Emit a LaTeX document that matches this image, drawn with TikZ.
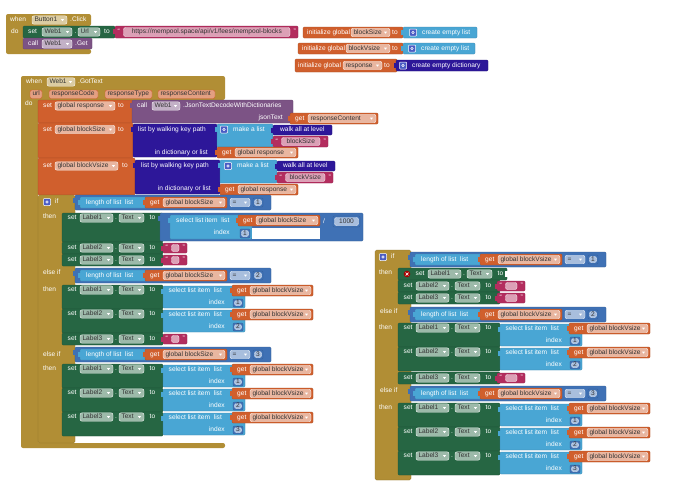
\documentclass[tikz,border=0pt]{standalone}
\usepackage{fontspec}
\setmainfont{Liberation Sans}
\usetikzlibrary{positioning}
\definecolor{ctrl}{HTML}{B18E35}
\definecolor{compgreen}{HTML}{266643}
\definecolor{callpurple}{HTML}{7C5385}
\definecolor{varorange}{HTML}{D05F2D}
\definecolor{dictblue}{HTML}{2D1799}
\definecolor{listblue}{HTML}{49A6D4}
\definecolor{textpink}{HTML}{B32D5E}
\definecolor{mathblue}{HTML}{3F71B5}
\definecolor{gearblue}{HTML}{4A5CC4}
\newcommand{\blkfont}{\fontsize{6.6}{7}\selectfont}
\tikzset{
    txt/.style={text=white, font=\blkfont, anchor=west, inner sep=0pt, text height=4.7pt, text depth=1.4pt},
    rtxt/.style={txt, anchor=east},
    ptxt/.style={txt, text=black!80},
    ctxt/.style={ptxt, anchor=center},
    pillbg/.style={fill=white, fill opacity=0.55, draw=white, draw opacity=0.9, line width=0.35pt, rounded corners=2pt},
    parampill/.style={fill=varorange!60!white, draw=varorange, line width=0.4pt, rounded corners=2pt},
    blkbox/.style={line width=0.3pt, rounded corners=1pt}
}
% plain block and its value tab
\newcommand{\blk}[5]{\filldraw[blkbox, fill=#1, draw=#1!80!black] ({#2},{#3}) rectangle ({#4},{#5});}
\newcommand{\vtab}[3]{\fill[#1] ({#2-2.5},{#3+2.5}) rectangle ({#2+0.5},{#3+7.5});}
% dropdown field
\newcommand{\ddpill}[4]{%
    \path[pillbg] ({#1},{#3-4.2}) rectangle ({#2},{#3+4.2});
    \node[ptxt] at ({#1+2.3},{#3}) {#4};
    \fill[white] ({#2-6},{#3-0.8}) -- ({#2-3},{#3-0.8}) -- ({#2-4.5},{#3+1.2}) -- cycle;}
\newcommand{\numblk}[5]{%
    \blk{mathblue}{#1}{#3}{#2}{#4}
    \path[pillbg] ({#1+1.5},{#3+1.5}) rectangle ({#2-1.5},{#4-1.5});
    \node[ctxt] at ({(#1+#2)/2},{(#3+#4)/2}) {#5};}
\newcommand{\getblk}[4]{%
    \blk{varorange}{#1}{#3}{#2}{#3+11}\vtab{varorange}{#1}{#3}
    \node[txt] at ({#1+5},{#3+5.5}) {get};
    \ddpill{#1+18}{#2-2}{#3+5.5}{#4}}
\newcommand{\strblk}[5]{%
    \blk{textpink}{#1}{#3}{#2}{#4}\vtab{textpink}{#1}{#3}
    \node[txt] at ({#1+2.5},{(#3+#4)/2}) {“};
    \node[rtxt] at ({#2-2},{(#3+#4)/2}) {”};
    \path[pillbg] ({#1+8.5},{#3+1.5}) rectangle ({#2-8},{#4-1.5});
    \node[ctxt] at ({(#1+#2)/2+0.3},{(#3+#4)/2}) {#5};}
\newcommand{\setrow}[3]{%
    \node[txt] at ({#1+5.5},{#2}) {set};
    \ddpill{#1+18}{#1+51}{#2}{#3}
    \node[txt] at ({#1+53},{#2}) {.};
    \ddpill{#1+57}{#1+82}{#2}{Text}
    \node[txt] at ({#1+87.5},{#2}) {to};}
\newcommand{\selrow}[4]{%
    \blk{listblue}{#1}{#2+1}{#1+82}{#2+23}\vtab{listblue}{#1}{#2+1}
    \node[txt] at ({#1+5.5},{#2+5.5}) {select list item\ \ list};
    \getblk{#1+69}{#1+150}{#2}{#4}
    \node[rtxt] at ({#1+62},{#2+18}) {index};
    \numblk{#1+70}{#1+80}{#2+14}{#2+22}{#3}}
\newcommand{\cmprow}[4]{%
    \blk{mathblue}{#1}{#2}{#1+196}{#2+15}\vtab{mathblue}{#1}{#2}
    \blk{listblue}{#1+5}{#2+2}{#1+72}{#2+13}\vtab{listblue}{#1+5}{#2+2}
    \node[txt] at ({#1+11},{#2+7.5}) {length of list\ \ list};
    \getblk{#1+70}{#1+152}{#2+2}{#3}
    \ddpill{#1+155}{#1+175}{#2+7.5}{=}
    \numblk{#1+178}{#1+188}{#2+3}{#2+12}{#4}}
\newcommand{\gear}[2]{%
    \filldraw[fill=gearblue, draw=white, line width=0.5pt, rounded corners=0.8pt] ({#1-3.5},{#2-3.5}) rectangle ({#1+3.5},{#2+3.5});
    \draw[white, line width=0.6pt] ({#1},{#2}) circle (1.3pt);}

\begin{document}
\begin{tikzpicture}[x=1pt, y=-1pt]
\useasboundingbox[fill=white] (0,0) rectangle (674,496);

% when Button1.Click
\fill[ctrl, rounded corners=2pt] (6,14) -- (91,14) -- (91,26) -- (23,26) -- (23,49) -- (91,49) -- (91,54) -- (6,54) -- cycle;
\node[txt] (click) at (10,20) {when};
\ddpill{32}{67}{20}{Button1}
\node[txt] at (70,20) {.Click};
\node[txt] at (11,32) {do};
\blk{compgreen}{23}{26}{115}{38}
\node[txt] at (28,32) {set};
\ddpill{42}{72}{32}{Web1}
\node[txt] at (74.5,32) {.};
\ddpill{78}{100}{32}{Url}
\node[txt] at (104,32) {to};
\strblk{115}{298}{26}{38}{https://mempool.space/api/v1/fees/mempool-blocks}
\blk{callpurple}{23}{38}{92}{49}
\node[txt] at (28,44) {call};
\ddpill{42}{72}{44}{Web1}
\node[txt] at (75,44) {.Get};

% globals
\blk{varorange}{303}{27}{403}{38}
\node[txt] (gsize) at (307,32.5) {initialize global};
\ddpill{351}{390}{32.5}{blockSize}
\node[txt] at (392,32.5) {to};
\blk{listblue}{403}{27}{477}{38}\vtab{listblue}{403}{27}
\gear{413}{32.5}
\node[txt] at (422,32.5) {create empty list};
\blk{varorange}{298}{43}{403}{54}
\node[txt] (gvsize) at (302,48.5) {initialize global};
\ddpill{346}{390}{48.5}{blockVsize}
\node[txt] at (392,48.5) {to};
\blk{listblue}{403}{43}{475}{54}\vtab{listblue}{403}{43}
\gear{412}{48.5}
\node[txt] at (421,48.5) {create empty list};
\blk{varorange}{295}{59}{397}{72}
\node[txt] (gresp) at (298,65.5) {initialize global};
\ddpill{343}{382}{65.5}{response}
\node[txt] at (384,65.5) {to};
\blk{dictblue}{396}{60}{488}{71}\vtab{dictblue}{396}{60}
\gear{403}{65.5}
\node[txt] at (412,65.5) {create empty dictionary};

% when Web1.GotText
\fill[ctrl, rounded corners=2pt] (21,76) -- (225,76) -- (225,100) -- (38,100) -- (38,443) -- (225,443) -- (225,448) -- (21,448) -- cycle;
\node[txt] (gottext) at (26,82) {when};
\ddpill{47}{75}{82}{Web1}
\node[txt] at (78,82) {.GotText};
\foreach \a/\b/\t in {30/42/url, 49/98/responseCode, 105/152/responseType, 158/215/responseContent} {
    \path[parampill] (\a,90) rectangle (\b,98.5);
    \node[ptxt] at (\a+2.3,94.2) {\t};
}
\node[txt] at (25,104) {do};

% set global response
\blk{varorange}{38}{100}{133}{123}
\node[txt] at (43,106) {set};
\ddpill{55}{115}{106}{global response}
\node[txt] at (118,106) {to};
\blk{callpurple}{132}{100}{293}{123}\vtab{callpurple}{132}{100}
\node[txt] at (137,106) {call};
\ddpill{152}{180}{106}{Web1}
\node[txt] at (183,106) {.JsonTextDecodeWithDictionaries};
\node[rtxt] at (283,118) {jsonText};
\getblk{290}{378}{113}{responseContent}

% set global blockSize
\blk{varorange}{38}{123}{133}{158}
\node[txt] at (43,129.5) {set};
\ddpill{55}{115}{129.5}{global blockSize}
\node[txt] at (118,129.5) {to};
\blk{dictblue}{133}{124}{217}{157}\vtab{dictblue}{133}{124}
\node[txt] at (138,129.5) {list by walking key path};
\node[rtxt] at (208,152.5) {in dictionary or list};
\blk{listblue}{217}{124}{273}{147}\vtab{listblue}{217}{124}
\gear{224}{129.5}
\node[txt] at (233,129.5) {make a list};
\blk{dictblue}{273}{125}{332}{135}\vtab{dictblue}{273}{125}
\node[txt] at (280,130) {walk all at level};
\strblk{273}{328}{136}{147}{blockSize}
\getblk{217}{298}{147}{global response}

% set global blockVsize
\blk{varorange}{38}{158}{135}{195}
\node[txt] at (43,166) {set};
\ddpill{55}{118}{166}{global blockVsize}
\node[txt] at (122,166) {to};
\blk{dictblue}{135}{160}{220}{194}\vtab{dictblue}{135}{160}
\node[txt] at (141,166) {list by walking key path};
\node[rtxt] at (211,189) {in dictionary or list};
\blk{listblue}{220}{160}{277}{183}\vtab{listblue}{220}{160}
\gear{228}{166}
\node[txt] at (237,166) {make a list};
\blk{dictblue}{277}{161}{335}{171}\vtab{dictblue}{277}{161}
\node[txt] at (283,166) {walk all at level};
\strblk{277}{333}{172}{183}{blockVsize}
\getblk{220}{298}{184}{global response}

% if blockSize
\filldraw[fill=ctrl, draw=ctrl!80!black, line width=0.3pt, rounded corners=1.5pt] (38,195) rectangle (75,443);
\gear{47}{202}
\node[txt] (ifsize) at (55,202) {if};
\cmprow{75}{195}{global blockSize}{1}
\node[txt] at (43,217) {then};
\blk{compgreen}{62}{213}{163}{242}
\setrow{62}{218}{Label1}
\blk{mathblue}{160}{213}{363}{241}\vtab{mathblue}{160}{213}
\blk{listblue}{170}{215}{252}{239}\vtab{listblue}{170}{215}
\node[txt] at (176,221) {select list item\ \ list};
\getblk{238}{320}{215}{global blockSize}
\node[rtxt] at (230,233) {index};
\numblk{240}{250}{229}{238}{1}
\fill[white] (252,228) rectangle (320,239);
\node[txt] at (323,222) {/};
\numblk{333}{360}{216}{227}{1000}
\foreach \i/\y in {2/242,3/254} {
    \blk{compgreen}{62}{\y}{163}{\y+12}
    \setrow{62}{\y+6}{Label\i}
    \strblk{163}{187}{\y+1}{\y+11}{}
}
\node[txt] at (43,273) {else if};
\cmprow{75}{268}{global blockSize}{2}
\node[txt] at (43,290) {then};
\foreach \i/\y in {1/285,2/309} {
    \blk{compgreen}{62}{\y}{163}{\y+24}
    \setrow{62}{\y+5}{Label\i}
    \selrow{163}{\y}{\i}{global blockVsize}
}
\blk{compgreen}{62}{333}{163}{345}
\setrow{62}{339}{Label3}
\strblk{163}{187}{334}{344}{}
\node[txt] at (43,355) {else if};
\cmprow{75}{347}{global blockSize}{3}
\node[txt] at (43,369) {then};
\foreach \i/\y in {1/364,2/388,3/412} {
    \blk{compgreen}{62}{\y}{163}{\y+24}
    \setrow{62}{\y+5}{Label\i}
    \selrow{163}{\y}{\i}{global blockVsize}
}

% if blockVsize (loose)
\filldraw[fill=ctrl, draw=ctrl!80!black, line width=0.3pt, rounded corners=1.5pt] (375,250) rectangle (411,480);
\gear{383}{257}
\node[txt] (ifvsize) at (391,257) {if};
\cmprow{410}{252}{global blockVsize}{1}
\node[txt] at (379,273) {then};
\blk{compgreen}{398}{268}{507}{280}
\fill[white] (504.5,271) rectangle (507.5,277);
\fill[red!65!black] (407,274) circle (3.3pt);
\draw[white, line width=0.7pt] (405.6,272.6) -- (408.4,275.4) (405.6,275.4) -- (408.4,272.6);
\setrow{410}{274}{Label1}
\foreach \i/\y in {2/280,3/292} {
    \blk{compgreen}{398}{\y}{500}{\y+12}
    \setrow{398}{\y+6}{Label\i}
    \strblk{497}{525}{\y+1}{\y+11}{}
}
\node[txt] at (380,312) {else if};
\cmprow{410}{307}{global blockVsize}{2}
\node[txt] at (379,328) {then};
\foreach \i/\y in {1/323,2/347} {
    \blk{compgreen}{398}{\y}{500}{\y+24}
    \setrow{398}{\y+5}{Label\i}
    \selrow{500}{\y}{\i}{global blockVsize}
}
\blk{compgreen}{398}{372}{500}{384}
\setrow{398}{378}{Label3}
\strblk{497}{525}{373}{383}{}
\node[txt] at (380,391) {else if};
\cmprow{410}{386}{global blockVsize}{3}
\node[txt] at (379,408) {then};
\foreach \i/\y in {1/403,2/427,3/451} {
    \blk{compgreen}{398}{\y}{500}{\y+24}
    \setrow{398}{\y+5}{Label\i}
    \selrow{500}{\y}{\i}{global blockVsize}
}
\end{tikzpicture}
\end{document}
